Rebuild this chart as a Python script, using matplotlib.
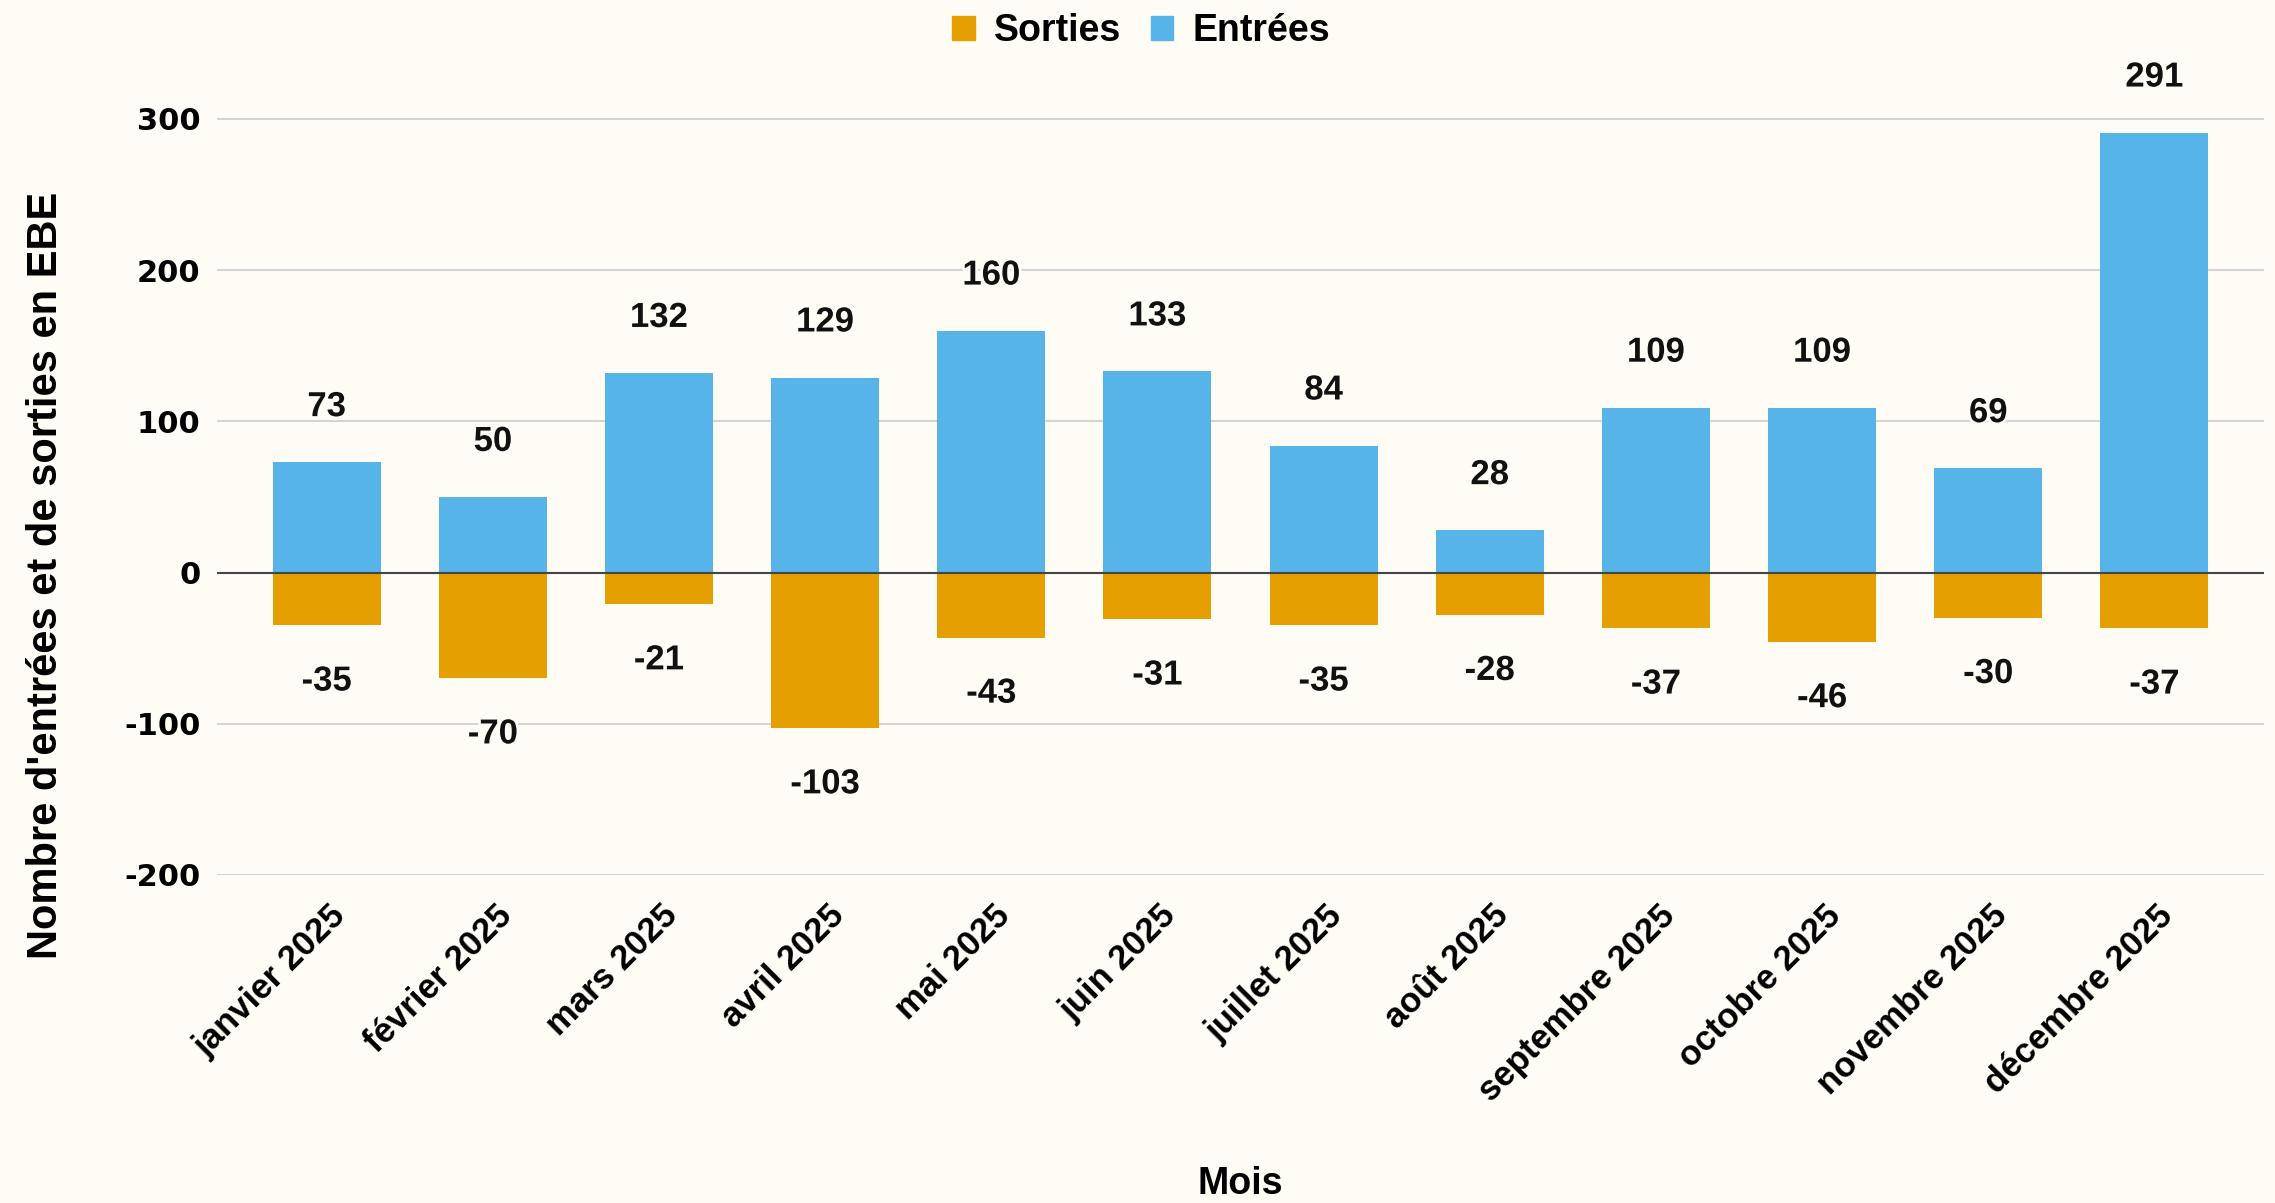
import matplotlib
matplotlib.use("Agg")
import matplotlib.pyplot as plt
import matplotlib.patches as mpatches
import matplotlib.patheffects as pe
import matplotlib.transforms as mtransforms
import numpy as np

plt.rcParams['axes.unicode_minus'] = False

mois = ['janvier 2025', 'février 2025', 'mars 2025', 'avril 2025', 'mai 2025', 'juin 2025',
        'juillet 2025', 'août 2025', 'septembre 2025', 'octobre 2025', 'novembre 2025', 'décembre 2025']
entrees = [73, 50, 132, 129, 160, 133, 84, 28, 109, 109, 69, 291]
sorties = [-35, -70, -21, -103, -43, -31, -35, -28, -37, -46, -30, -37]

bg = '#FFFCF5'
col_s = '#E69F00'
col_e = '#56B4E9'

fig = plt.figure(figsize=(22.75, 12.03), dpi=100, facecolor=bg)
ax = fig.add_axes([0.0954, 0.2727, 0.8998, 0.6661], facecolor=bg)

x = np.arange(len(mois))
w = 0.65
ax.bar(x, entrees, w, color=col_e, zorder=3)
ax.bar(x, sorties, w, color=col_s, zorder=3)

halo = [pe.withStroke(linewidth=4, foreground=bg)]
for i in range(len(mois)):
    ax.annotate(str(entrees[i]), (x[i], entrees[i]), xytext=(0, 40), textcoords='offset points',
                ha='center', va='center', fontsize=25, fontweight='bold', family='Liberation Sans',
                color='#111111', path_effects=halo, zorder=5)
    ax.annotate(str(sorties[i]), (x[i], sorties[i]), xytext=(0, -40), textcoords='offset points',
                ha='center', va='center', fontsize=25, fontweight='bold', family='Liberation Sans',
                color='#111111', path_effects=halo, zorder=5)

ax.set_xlim(-0.66, 11.66)
ax.set_ylim(-200, 330)
ax.set_yticks([-200, -100, 0, 100, 200, 300])
ax.yaxis.grid(True, color='#d4d4d4', linewidth=1.5, zorder=0)
ax.axhline(0, color='#444444', linewidth=1.5, zorder=4)
for s in ax.spines.values():
    s.set_visible(False)
ax.tick_params(axis='both', length=0)
ax.tick_params(axis='y', pad=12)
for t in ax.get_yticklabels():
    t.set_fontsize(22)
    t.set_fontweight('bold')
    t.set_family('DejaVu Sans')

ax.set_xticks(x)
ax.set_xticklabels(mois, rotation=45, ha='right', va='top', rotation_mode='anchor',
                   fontsize=25, fontweight='bold', family='Liberation Sans')
ax.tick_params(axis='x', pad=0)
shift = mtransforms.ScaledTranslation(0.02, -0.24, fig.dpi_scale_trans)
for t in ax.get_xticklabels():
    t.set_transform(t.get_transform() + shift)

ax.set_ylabel("Nombre d'entrées et de sorties en EBE", fontsize=30, fontweight='bold',
              family='Liberation Sans')
ax.yaxis.set_label_coords(-0.0738, 0.374)
fig.text(0.545, 0.016, 'Mois', ha='center', va='center', fontsize=27, fontweight='bold', family='Liberation Sans')

handles = [mpatches.Patch(color=col_s, label='Sorties'), mpatches.Patch(color=col_e, label='Entrées')]
fig.legend(handles=handles, loc='center', bbox_to_anchor=(0.5016, 0.974), ncol=2, frameon=False,
           prop={'family': 'Liberation Sans', 'weight': 'bold', 'size': 27},
           handlelength=0.6, handleheight=0.6, handletextpad=0.5, columnspacing=0.8)

fig.savefig('out.png', dpi=100, facecolor=bg)
